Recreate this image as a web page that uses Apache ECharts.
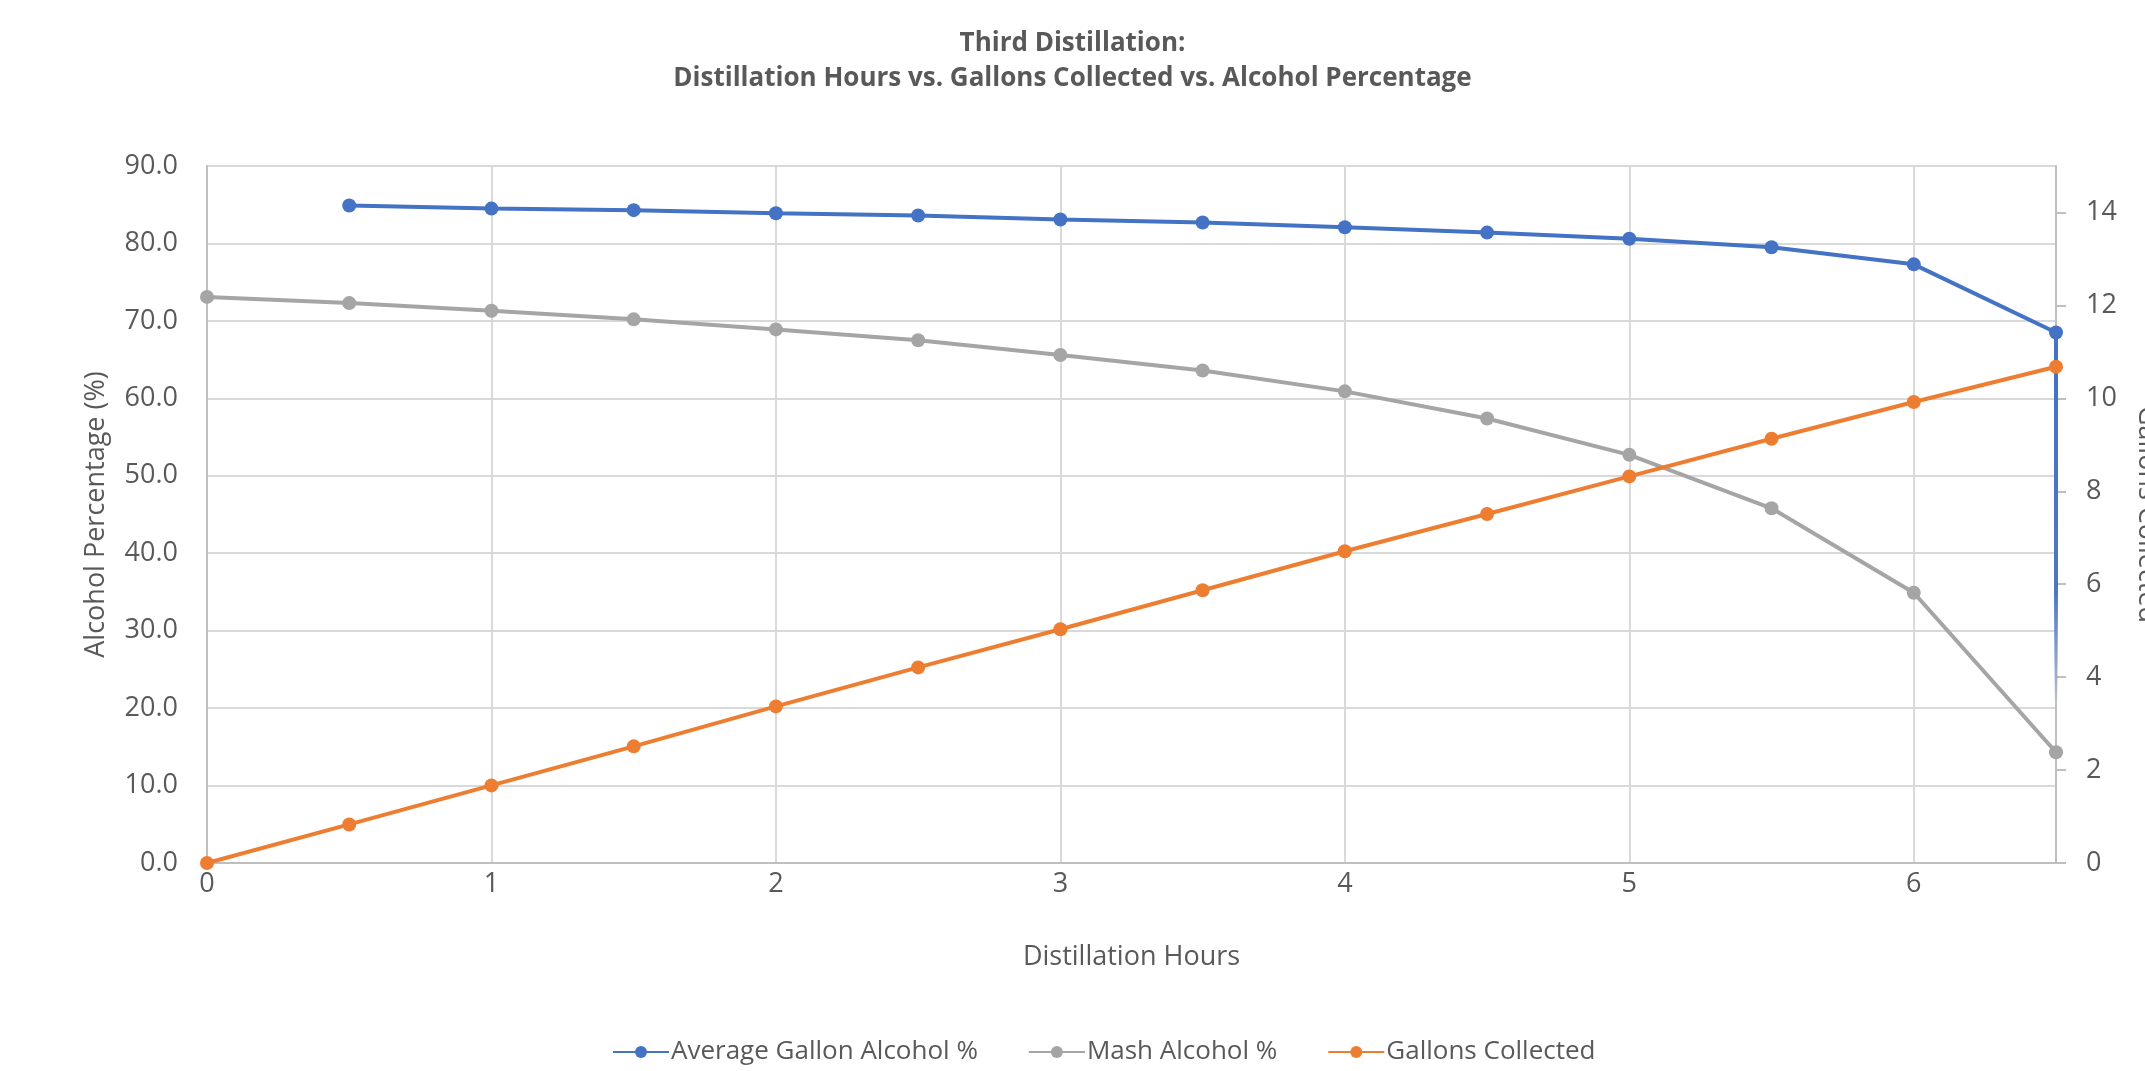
<!DOCTYPE html>
<html>
<head>
<meta charset="utf-8">
<title>Third Distillation</title>
<script src="https://cdn.jsdelivr.net/npm/echarts@6/dist/echarts.min.js"></script>
<style>
  html, body { margin: 0; padding: 0; background: #ffffff; }
  #chart { width: 2145px; height: 1071px; }
</style>
</head>
<body>
<div id="chart"></div>
<script>
// Distillation run, sampled every half hour
const hours = [0, 0.5, 1, 1.5, 2, 2.5, 3, 3.5, 4, 4.5, 5, 5.5, 6, 6.5];

// Average alcohol % of the gallons collected so far (no reading at hour 0)
const avgGallonAlcohol = [null, 84.9, 84.5, 84.3, 83.9, 83.6, 83.1, 82.7, 82.1, 81.4, 80.6, 79.5, 77.3, 68.5];

// Alcohol % remaining in the mash
const mashAlcohol = [73.1, 72.3, 71.3, 70.2, 68.9, 67.5, 65.6, 63.6, 60.9, 57.4, 52.7, 45.8, 34.9, 14.3];

// Cumulative gallons collected (right axis)
const gallonsCollected = [0, 0.83, 1.67, 2.51, 3.37, 4.21, 5.03, 5.87, 6.71, 7.51, 8.32, 9.13, 9.92, 10.68];

// Trailing drop of the average line at the final hour
const avgTailHours = [6.5, 6.5];
const avgTailValues = [68.5, 21];

const leftTicks = { min: 0, max: 90, interval: 10 };
const rightTicks = { min: 0, max: 15, interval: 2 };
const hourTicks = { min: 0, max: 6.5, interval: 1 };

const seriesNames = ['Average Gallon Alcohol %', 'Mash Alcohol %', 'Gallons Collected'];
const colors = ['#4472C4', '#A5A5A5', '#ED7D31'];

const pairs = (xs, ys) => xs.map((x, i) => [x, ys[i]]);

const textColor = '#595959';
const fontFamily = '"Open Sans", "Noto Sans", sans-serif';

const chart = echarts.init(document.getElementById('chart'), null, { renderer: 'canvas' });

const lineSeries = (name, data, color, yAxisIndex) => ({
  name: name,
  type: 'line',
  yAxisIndex: yAxisIndex,
  data: data,
  symbol: 'circle',
  symbolSize: 14,
  showAllSymbol: true,
  connectNulls: false,
  itemStyle: { color: color },
  lineStyle: { color: color, width: 4 },
  emphasis: { disabled: true },
  z: 3
});

chart.setOption({
  backgroundColor: '#ffffff',
  animation: false,
  title: {
    text: 'Third Distillation:\nDistillation Hours vs. Gallons Collected vs. Alcohol Percentage',
    left: 'center',
    top: 21,
    textStyle: {
      fontFamily: fontFamily,
      fontWeight: 'bold',
      fontSize: 26,
      lineHeight: 35,
      color: textColor
    }
  },
  legend: {
    data: seriesNames,
    bottom: 6,
    left: 612,
    padding: 0,
    itemWidth: 56,
    itemHeight: 15,
    itemGap: 50,
    textStyle: { fontFamily: fontFamily, fontSize: 26, color: textColor, padding: [0, 0, 0, -3] }
  },
  grid: {
    left: 207, right: 89, top: 166, bottom: 208,
    containLabel: false,
    outerBoundsMode: 'none'
  },
  xAxis: {
    type: 'value',
    min: hourTicks.min,
    max: hourTicks.max,
    interval: hourTicks.interval,
    name: 'Distillation Hours',
    nameLocation: 'middle',
    nameGap: 81,
    nameTextStyle: { fontFamily: fontFamily, fontSize: 27, color: textColor },
    axisLine: { show: true, lineStyle: { color: '#BFBFBF', width: 2 } },
    axisTick: { show: false },
    axisLabel: {
      showMaxLabel: false,
      margin: 8,
      fontFamily: fontFamily,
      fontSize: 27,
      color: textColor
    },
    splitLine: { show: true, lineStyle: { color: '#D9D9D9', width: 2 } }
  },
  yAxis: [
    {
      type: 'value',
      position: 'left',
      min: leftTicks.min,
      max: leftTicks.max,
      interval: leftTicks.interval,
      name: 'Alcohol Percentage (%)',
      nameLocation: 'middle',
      nameGap: 97,
      nameTextStyle: { fontFamily: fontFamily, fontSize: 27, color: textColor },
      axisLine: { show: true, lineStyle: { color: '#BFBFBF', width: 2 } },
      axisTick: { show: false },
      axisLabel: {
        margin: 29,
        fontFamily: fontFamily,
        fontSize: 27,
        color: textColor,
        formatter: v => v.toFixed(1)
      },
      splitLine: { show: true, lineStyle: { color: '#D9D9D9', width: 2 } }
    },
    {
      type: 'value',
      position: 'right',
      min: rightTicks.min,
      max: rightTicks.max,
      interval: rightTicks.interval,
      name: 'Gallons Collected',
      nameLocation: 'middle',
      nameRotate: -90,
      nameGap: 77,
      nameTextStyle: { fontFamily: fontFamily, fontSize: 27, color: textColor },
      axisLine: { show: true, lineStyle: { color: '#BFBFBF', width: 2 } },
      axisTick: { show: true, length: 10, lineStyle: { color: '#BFBFBF', width: 2 } },
      axisLabel: {
        showMaxLabel: false,
        margin: 30,
        fontFamily: fontFamily,
        fontSize: 27,
        color: textColor
      },
      splitLine: { show: false }
    }
  ],
  series: [
    lineSeries(seriesNames[0], pairs(hours, avgGallonAlcohol), colors[0], 0),
    lineSeries(seriesNames[1], pairs(hours, mashAlcohol), colors[1], 0),
    lineSeries(seriesNames[2], pairs(hours, gallonsCollected), colors[2], 1),
    {
      name: 'avg-tail',
      type: 'line',
      yAxisIndex: 0,
      data: pairs(avgTailHours, avgTailValues),
      symbol: 'none',
      silent: true,
      clip: false,
      lineStyle: {
        width: 4,
        color: {
          type: 'linear', x: 0, y: 0, x2: 0, y2: 1,
          colorStops: [
            { offset: 0, color: 'rgba(68,114,196,1)' },
            { offset: 0.7, color: 'rgba(68,114,196,0.95)' },
            { offset: 1, color: 'rgba(68,114,196,0)' }
          ]
        }
      },
      z: 2
    }
  ]
});
</script>
</body>
</html>
